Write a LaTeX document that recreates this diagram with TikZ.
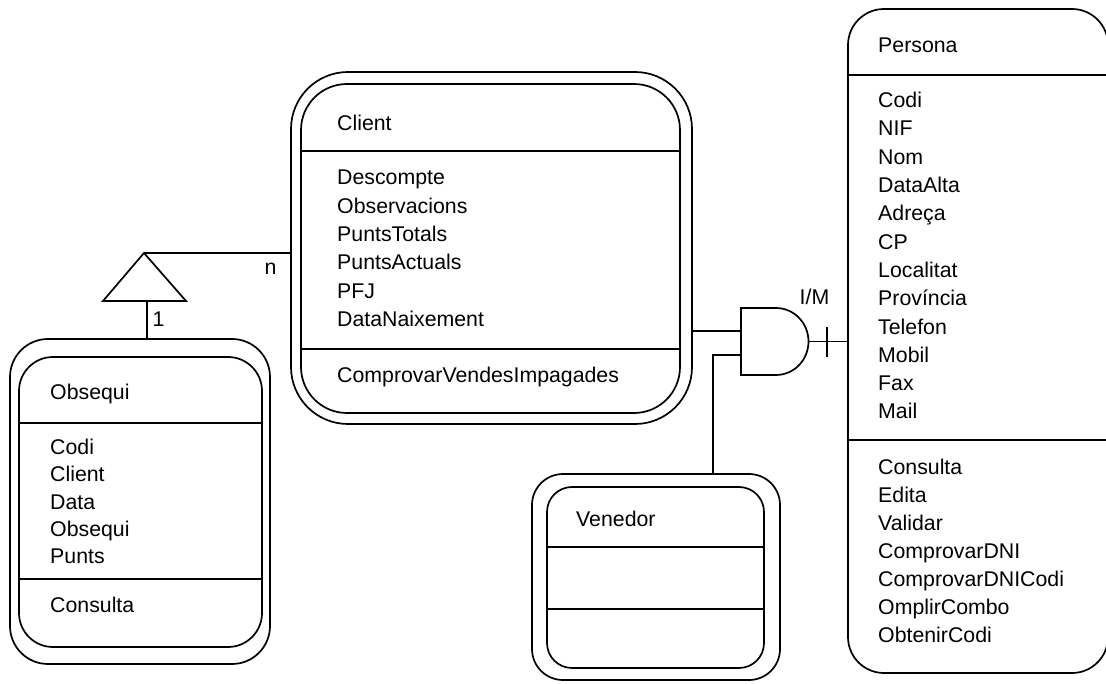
\documentclass[tikz,border=0pt]{standalone}
\usepackage{fontspec}
\setmainfont{Liberation Sans}
\begin{document}
\begin{tikzpicture}[x=1pt,y=-1pt,
  ln/.style={line width=1.7pt},
  boxshape/.style={draw, line width=1.7pt, inner sep=0pt, outer sep=0pt},
  txt/.style={anchor=west, inner sep=0pt, text height=15.3pt, text depth=0pt,
              font=\fontsize{21.3}{25}\selectfont},
  lbl/.style={anchor=base, inner sep=0pt, font=\fontsize{21.3}{25}\selectfont}]
\useasboundingbox (0,0) rectangle (1106,684);

% ---------- Client ----------
\node[boxshape, minimum width=401pt, minimum height=352pt, rounded corners=57pt] (client) at (491.5,248) {};
\node[boxshape, minimum width=379pt, minimum height=329pt, rounded corners=46pt] (clientin) at (490.5,248.5) {};
\draw[ln] (301,151) -- (680,151);
\draw[ln] (301,349) -- (680,349);
\node[txt] (clname) at (337,123) {Client};
\foreach \t [count=\i from 0] in {Descompte,Observacions,PuntsTotals,PuntsActuals,PFJ,DataNaixement}
  \node[txt] (clattr\i) at (337,{177+\i*28.4}) {\t};
\node[txt] (clop0) at (337,375) {ComprovarVendesImpagades};

% ---------- Obsequi ----------
\node[boxshape, minimum width=260pt, minimum height=325pt, rounded corners=38pt] (obsequi) at (140,501.5) {};
\node[boxshape, minimum width=243pt, minimum height=290pt, rounded corners=34pt] (obsequiin) at (140.5,502) {};
\draw[ln] (19,423) -- (262,423);
\draw[ln] (19,579) -- (262,579);
\node[txt] (obname) at (50,392) {Obsequi};
\foreach \t [count=\i from 0] in {Codi,Client,Data,Obsequi,Punts}
  \node[txt] (obattr\i) at (50,{447+\i*27.3}) {\t};
\node[txt] (obop0) at (50,605) {Consulta};

% ---------- Venedor ----------
\node[boxshape, minimum width=248pt, minimum height=206pt, rounded corners=31pt] (venedor) at (656,577) {};
\node[boxshape, minimum width=217pt, minimum height=181pt, rounded corners=25pt] (venedorin) at (655.5,577.5) {};
\draw[ln] (547,547) -- (764,547);
\draw[ln] (547,609) -- (764,609);
\node[txt] (vename) at (576,519) {Venedor};

% ---------- Persona ----------
\node[boxshape, minimum width=260pt, minimum height=664pt, rounded corners=36pt] (persona) at (978,341) {};
\draw[ln] (848,75) -- (1108,75);
\draw[ln] (848,440) -- (1108,440);
\node[txt] (pename) at (878,45) {Persona};
\foreach \t [count=\i from 0] in {Codi,NIF,Nom,DataAlta,Adreça,CP,Localitat,Província,Telefon,Mobil,Fax,Mail}
  \node[txt] (peattr\i) at (878,{100+\i*28.3}) {\t};
\foreach \t [count=\i from 0] in {Consulta,Edita,Validar,ComprovarDNI,ComprovarDNICodi,OmplirCombo,ObtenirCodi}
  \node[txt] (peop\i) at (878,{467+\i*28}) {\t};

% ---------- generalisation triangle ----------
\coordinate (apex) at (144,253);
\coordinate (tbl) at (103,301);
\coordinate (tbr) at (186,301);
\coordinate (tbase) at (147,301);
\draw[ln, line join=miter] (apex) -- (tbr) -- (tbl) -- cycle;
\draw[ln] (apex) -- (apex -| client.west);
\draw[ln] (tbase) -- (tbase |- obsequi.north);
\node[lbl] (labn) at (270.5,275) {n};
\node[lbl] (lab1) at (158.5,327) {1};

% ---------- AND gate ----------
\coordinate (gin1) at (741,331);
\coordinate (gin2) at (741,355);
\coordinate (gout) at (808.5,341.5);
\coordinate (vtop) at (713,474);
\draw[ln, line join=miter] (741,308) -- (776,308)
  arc[start angle=-90, end angle=90, x radius=32.5, y radius=33.5] -- (741,375) -- cycle;
\draw[ln] (client.east |- gin1) -- (gin1);
\draw[ln] (gin2) -| (vtop);
\draw[ln] (gout) -- (gout -| persona.west);
\coordinate (tick) at (827,341.5);
\draw[ln] ([yshift=14pt]tick) -- ([yshift=-16pt]tick);
\node[lbl] (labim) at (814.5,305) {I/M};
\end{tikzpicture}
\end{document}
